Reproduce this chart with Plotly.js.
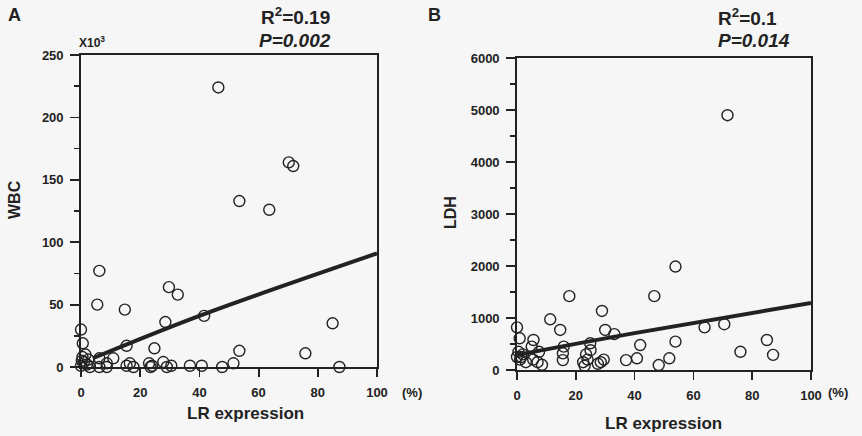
<!DOCTYPE html>
<html>
<head>
<meta charset="utf-8">
<script src="https://cdn.plot.ly/plotly-3.0.1.min.js"></script>
<style>html,body{margin:0;padding:0;background:#f6f6f6;}#chart{width:862px;height:436px;}</style>
</head>
<body>
<div id="chart"></div>
<script>
// Panel A: LR expression (%) vs WBC (x10^3)
const wbcLR = [46.4,70.2,71.7,53.5,63.6,6.2,5.5,14.8,29.7,32.7,28.5,41.6,85,0,0.6,15.4,24.8,53.5,75.8,87.3,51.5,47.7,40.8,36.8,29,27.8,23,24,23.5,17.7,15.4,10.9,8.7,8.7,6.2,6.2,0.5,1,2,0,3,1.5,0.3,2.5,30.5,16.5];
const wbcVal = [224,164,161,133,126,77,50,46,64,58,36,41,35,30,19,17,15,13,11,0,3,0,1,1,0,4,3,1,0,0,1,7,3,0,7,0,8,4,2,1,0,10,5,6,1,3];
const wbcFitX = [4,40,100];
const wbcFitY = [7,41,91];

// Panel B: LR expression (%) vs LDH
const ldhLR = [71.6,53.9,17.8,46.7,28.9,11.3,63.8,70.5,0,14.7,30,33.1,0.9,85,87.1,76,53.9,41.9,40.8,37.1,51.8,48.2,5.6,24.9,15.9,15.6,15.6,29.5,28.5,27.5,23.5,24,23,22.5,25,0,1,2,0.5,3,5.5,7.5,7,8.5,5,1.5];
const ldhVal = [4900,1990,1420,1420,1135,975,820,880,820,770,770,690,610,577,290,350,545,480,225,190,225,95,577,513,449,320,190,200,150,120,300,200,80,150,380,250,200,300,350,150,200,350,150,100,450,250];
const ldhFitX = [0,39,100];
const ldhFitY = [290,700,1290];

const xTicks = [0,20,40,60,80,100];
const wbcTicks = [0,50,100,150,200,250];
const ldhTicks = [0,1000,2000,3000,4000,5000,6000];

const INK = '#222';
const FONT = 'Liberation Sans, Arial, sans-serif';

const marker = {symbol:'circle-open', size:11, color:INK, line:{width:1.4, color:INK}};

const traces = [
  {x:wbcLR, y:wbcVal, type:'scatter', mode:'markers', marker:marker, xaxis:'x', yaxis:'y', cliponaxis:false, showlegend:false},
  {x:wbcFitX, y:wbcFitY, type:'scatter', mode:'lines', line:{color:INK, width:4, shape:'spline'}, xaxis:'x', yaxis:'y', showlegend:false},
  {x:ldhLR, y:ldhVal, type:'scatter', mode:'markers', marker:marker, xaxis:'x2', yaxis:'y2', cliponaxis:false, showlegend:false},
  {x:ldhFitX, y:ldhFitY, type:'scatter', mode:'lines', line:{color:INK, width:4, shape:'spline'}, xaxis:'x2', yaxis:'y2', showlegend:false}
];

const W = 862, H = 436;
const px = v => v / W;
const py = v => 1 - v / H;
const bold = arr => arr.map(v => '<b>' + v + '</b>');

function xAxis(dom, anchor){
  return {domain:dom, anchor:anchor, range:[0,100], tickvals:xTicks, ticktext:bold(xTicks),
    showgrid:false, zeroline:false, showline:true, mirror:true, linecolor:INK, linewidth:1.8,
    ticks:'outside', ticklen:8, tickwidth:1.8, tickcolor:INK, ticklabelstandoff:5,
    tickfont:{family:FONT, size:13, color:INK}, fixedrange:true};
}
function yAxis(dom, anchor, rng, tv, minorDt){
  return {domain:dom, anchor:anchor, range:rng, tickvals:tv, ticktext:bold(tv),
    showgrid:false, zeroline:false, showline:true, mirror:true, linecolor:INK, linewidth:1.8,
    ticks:'outside', ticklen:9, tickwidth:1.8, tickcolor:INK, ticklabelstandoff:4,
    minor:{dtick:minorDt, tick0:0, ticks:'outside', ticklen:5, tickwidth:1.6, tickcolor:INK, showgrid:false},
    tickfont:{family:FONT, size:13, color:INK}, fixedrange:true};
}

function ann(text, x, y, size, opts){
  return Object.assign({text:text, x:px(x), y:py(y), xref:'paper', yref:'paper', xanchor:'center', yanchor:'middle',
    showarrow:false, font:{family:FONT, size:size, color:INK, weight:'bold'}}, opts || {});
}

const layout = {
  width:W, height:H,
  margin:{l:0, r:0, t:0, b:0},
  paper_bgcolor:'#f6f6f6', plot_bgcolor:'rgba(0,0,0,0)',
  showlegend:false,
  xaxis: xAxis([px(81), px(377)], 'y'),
  yaxis: yAxis([py(367), py(55)], 'x', [0,250], wbcTicks, 25),
  xaxis2: xAxis([px(517), px(811)], 'y2'),
  yaxis2: yAxis([py(370), py(58)], 'x2', [0,6000], ldhTicks, 500),
  annotations: [
    ann('<b>A</b>', 14, 15, 18),
    ann('<b>B</b>', 434, 15, 18),
    ann('<b>R<sup>2</sup>=0.19</b>', 259, 16, 19, {xanchor:'left'}),
    ann('<b><i>P=0.002</i></b>', 257, 40, 19, {xanchor:'left'}),
    ann('<b>R<sup>2</sup>=0.1</b>', 716, 17, 19, {xanchor:'left'}),
    ann('<b><i>P=0.014</i></b>', 716, 40, 19, {xanchor:'left'}),
    ann('<b>X10<sup>3</sup></b>', 77, 42, 12, {xanchor:'left'}),
    ann('<b>WBC</b>', 14, 200, 16, {textangle:-90}),
    ann('<b>LDH</b>', 450, 213, 16, {textangle:-90}),
    ann('<b>LR expression</b>', 245, 413, 17),
    ann('<b>LR expression</b>', 663, 423, 17),
    ann('<b>(%)</b>', 412, 392, 13),
    ann('<b>(%)</b>', 838, 392, 13)
  ]
};

Plotly.newPlot('chart', traces, layout, {displayModeBar:false, staticPlot:true});
</script>
</body>
</html>
